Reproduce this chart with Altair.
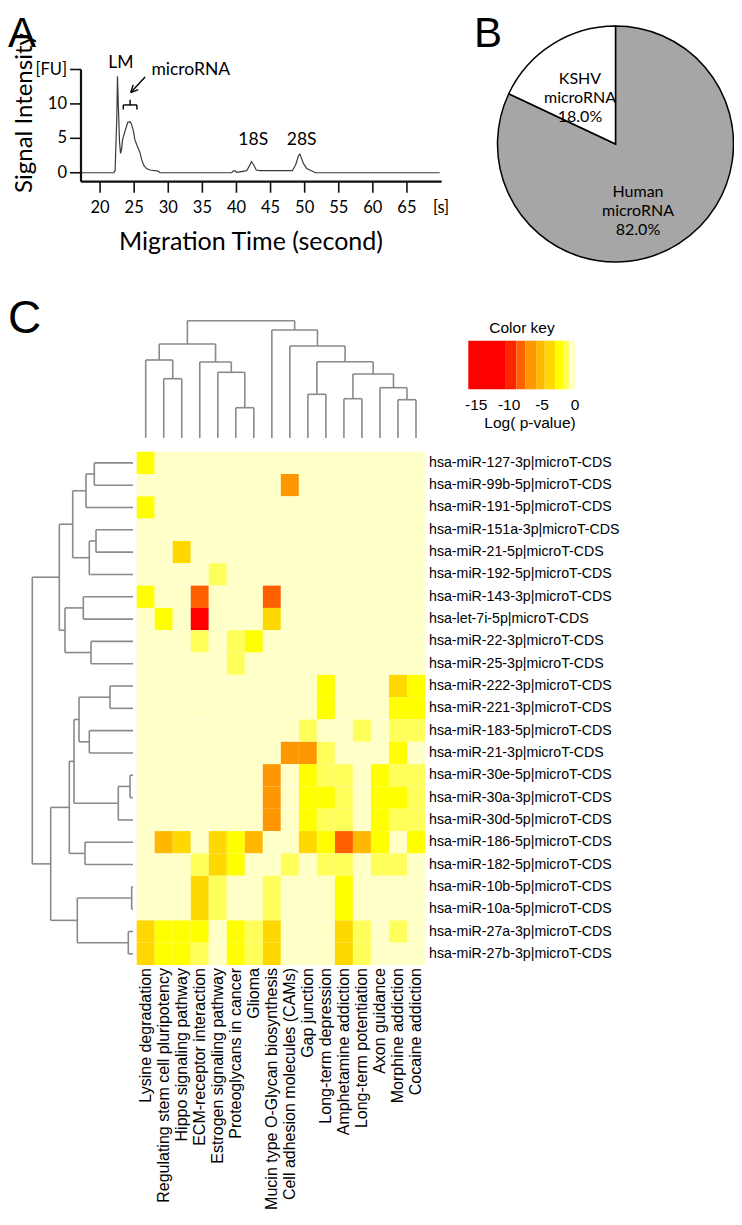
import math
import altair as alt
import pandas as pd

OX, OY = 8, 8
W, H = 726, 1207
FA = "Lato"
FC = "Liberation Sans"


def px(v):
    return v - OX


def py(v):
    return v - OY


def S(domain, rng):
    return alt.Scale(domain=list(domain), range=list(rng), nice=False, zero=False)


# ---------------- Panel A data ----------------
a_time = [17.2, 22.0, 22.2, 22.45, 22.55, 22.7, 22.85, 23.0, 23.15, 23.3,
          23.7, 24.05, 24.4, 24.6, 24.9, 25.1, 25.4, 25.8, 26.1, 26.4,
          26.8, 27.3, 28.5, 28.8, 39.3, 39.5, 39.8, 40.0, 40.3, 41.5,
          41.9, 42.2, 42.5, 42.9, 43.5, 48.2, 48.7, 49.1, 49.3, 49.5,
          49.8, 50.3, 51.3, 51.6, 69.8]
a_fu = [0, 0, 0.3, 8.0, 14.0, 9.0, 4.5, 2.8, 3.4, 4.8,
        6.2, 7.3, 7.4, 7.1, 6.0, 4.8, 4.0, 3.1, 1.9, 1.1,
        0.6, 0.4, 0.25, 0, 0, 0.25, 0.3, 0.05, 0.1, 0.3,
        1.0, 1.6, 1.2, 0.4, 0.3, 0.3, 1.2, 2.5, 2.7, 2.2,
        1.4, 0.6, 0.15, 0, 0]
a_xtick_vals = [20, 25, 30, 35, 40, 45, 50, 55, 60, 65, 70]
a_xtick_text = ["20", "25", "30", "35", "40", "45", "50", "55", "60", "65", "[s]"]
a_ytick_vals = [0, 5, 10, 15]
a_ytick_text = ["0", "5", "10", "[FU]"]
a_peak_text = ["LM", "microRNA", "18S", "28S"]
a_peak_t = [23.04, 33.3, 42.46, 49.56]
a_peak_fu = [16.0, 14.93, 4.75, 4.75]

# ---------------- Panel B data ----------------
pie_groups = ["Human microRNA", "KSHV microRNA"]
pie_values = [82.0, 18.0]
pie_colors = ["#A6A6A6", "#FFFFFF"]

# ---------------- Panel C data ----------------
pathways = ["Lysine degradation", "Regulating stem cell pluripotency",
            "Hippo signaling pathway", "ECM-receptor interaction",
            "Estrogen signaling pathway", "Proteoglycans in cancer", "Glioma",
            "Mucin type O-Glycan biosynthesis", "Cell adhesion molecules (CAMs)",
            "Gap junction", "Long-term depression", "Amphetamine addiction",
            "Long-term potentiation", "Axon guidance", "Morphine addiction",
            "Cocaine addiction"]
mirnas = ["hsa-miR-127-3p|microT-CDS", "hsa-miR-99b-5p|microT-CDS",
          "hsa-miR-191-5p|microT-CDS", "hsa-miR-151a-3p|microT-CDS",
          "hsa-miR-21-5p|microT-CDS", "hsa-miR-192-5p|microT-CDS",
          "hsa-miR-143-3p|microT-CDS", "hsa-let-7i-5p|microT-CDS",
          "hsa-miR-22-3p|microT-CDS", "hsa-miR-25-3p|microT-CDS",
          "hsa-miR-222-3p|microT-CDS", "hsa-miR-221-3p|microT-CDS",
          "hsa-miR-183-5p|microT-CDS", "hsa-miR-21-3p|microT-CDS",
          "hsa-miR-30e-5p|microT-CDS", "hsa-miR-30a-3p|microT-CDS",
          "hsa-miR-30d-5p|microT-CDS", "hsa-miR-186-5p|microT-CDS",
          "hsa-miR-182-5p|microT-CDS", "hsa-miR-10b-5p|microT-CDS",
          "hsa-miR-10a-5p|microT-CDS", "hsa-miR-27a-3p|microT-CDS",
          "hsa-miR-27b-3p|microT-CDS"]

logp = [
    [-2.4, -0.3, -0.3, -0.3, -0.3, -0.3, -0.3, -0.3, -0.3, -0.3, -0.3, -0.3, -0.3, -0.3, -0.3, -0.3],
    [-0.3, -0.3, -0.3, -0.3, -0.3, -0.3, -0.3, -0.3, -6.5, -0.3, -0.3, -0.3, -0.3, -0.3, -0.3, -0.3],
    [-2.4, -0.3, -0.3, -0.3, -0.3, -0.3, -0.3, -0.3, -0.3, -0.3, -0.3, -0.3, -0.3, -0.3, -0.3, -0.3],
    [-0.3, -0.3, -0.3, -0.3, -0.3, -0.3, -0.3, -0.3, -0.3, -0.3, -0.3, -0.3, -0.3, -0.3, -0.3, -0.3],
    [-0.3, -0.3, -3.8, -0.3, -0.3, -0.3, -0.3, -0.3, -0.3, -0.3, -0.3, -0.3, -0.3, -0.3, -0.3, -0.3],
    [-0.3, -0.3, -0.3, -0.3, -1.3, -0.3, -0.3, -0.3, -0.3, -0.3, -0.3, -0.3, -0.3, -0.3, -0.3, -0.3],
    [-2.4, -0.3, -0.3, -8.0, -0.3, -0.3, -0.3, -8.0, -0.3, -0.3, -0.3, -0.3, -0.3, -0.3, -0.3, -0.3],
    [-0.3, -2.4, -0.3, -12.5, -0.3, -0.3, -0.3, -3.8, -0.3, -0.3, -0.3, -0.3, -0.3, -0.3, -0.3, -0.3],
    [-0.3, -0.3, -0.3, -1.3, -0.3, -1.3, -2.4, -0.3, -0.3, -0.3, -0.3, -0.3, -0.3, -0.3, -0.3, -0.3],
    [-0.3, -0.3, -0.3, -0.3, -0.3, -1.3, -0.3, -0.3, -0.3, -0.3, -0.3, -0.3, -0.3, -0.3, -0.3, -0.3],
    [-0.3, -0.3, -0.3, -0.3, -0.3, -0.3, -0.3, -0.3, -0.3, -0.3, -2.4, -0.3, -0.3, -0.3, -3.8, -2.4],
    [-0.3, -0.3, -0.3, -0.3, -0.3, -0.3, -0.3, -0.3, -0.3, -0.3, -2.4, -0.3, -0.3, -0.3, -2.4, -2.4],
    [-0.3, -0.3, -0.3, -0.3, -0.3, -0.3, -0.3, -0.3, -0.3, -1.3, -0.3, -0.3, -1.3, -0.3, -1.3, -1.3],
    [-0.3, -0.3, -0.3, -0.3, -0.3, -0.3, -0.3, -0.3, -6.5, -6.2, -1.3, -0.3, -0.3, -0.3, -2.4, -0.3],
    [-0.3, -0.3, -0.3, -0.3, -0.3, -0.3, -0.3, -6.5, -0.3, -2.4, -1.3, -1.3, -0.3, -2.4, -1.3, -1.3],
    [-0.3, -0.3, -0.3, -0.3, -0.3, -0.3, -0.3, -6.5, -0.3, -2.4, -2.4, -1.3, -0.3, -2.4, -2.4, -1.3],
    [-0.3, -0.3, -0.3, -0.3, -0.3, -0.3, -0.3, -6.5, -0.3, -2.4, -1.3, -1.3, -0.3, -2.4, -1.3, -1.3],
    [-0.3, -5.2, -3.8, -0.3, -3.8, -2.4, -5.0, -0.3, -0.3, -3.8, -2.4, -8.0, -5.2, -2.4, -0.3, -2.4],
    [-0.3, -0.3, -0.3, -1.3, -3.8, -2.4, -0.3, -0.3, -1.3, -0.3, -1.3, -1.3, -0.3, -1.3, -1.3, -0.3],
    [-0.3, -0.3, -0.3, -3.8, -1.3, -0.3, -0.3, -1.3, -0.3, -0.3, -0.3, -2.4, -0.3, -0.3, -0.3, -0.3],
    [-0.3, -0.3, -0.3, -3.8, -1.3, -0.3, -0.3, -1.3, -0.3, -0.3, -0.3, -2.4, -0.3, -0.3, -0.3, -0.3],
    [-3.8, -2.4, -2.4, -2.4, -0.3, -2.4, -1.3, -3.8, -0.3, -0.3, -0.3, -3.8, -1.3, -0.3, -1.3, -0.3],
    [-3.8, -2.4, -2.4, -1.3, -0.3, -2.4, -1.3, -3.8, -0.3, -0.3, -0.3, -3.8, -1.3, -0.3, -0.3, -0.3],
]

# dendrogram merges: (child a, child b, height); new nodes numbered after the leaves
col_links = [(5, 6, 30.3), (14, 15, 38.3), (11, 12, 39.3), (9, 10, 43.7),
             (13, 17, 50.3), (1, 2, 59.3), (18, 20, 64.0), (4, 16, 65.7),
             (3, 23, 76.0), (19, 22, 76.3), (0, 21, 78.0), (8, 25, 92.0),
             (26, 24, 94.0), (7, 27, 108.0), (28, 29, 117.3)]
row_links = [(19, 20, 1.3), (14, 15, 3.0), (21, 22, 4.7), (24, 16, 14.7),
             (10, 11, 23.0), (3, 4, 37.0), (0, 1, 38.7), (8, 9, 42.0),
             (28, 5, 43.7), (12, 13, 43.7), (29, 2, 47.0), (17, 18, 48.0),
             (6, 7, 49.7), (27, 32, 54.0), (23, 25, 55.7), (36, 26, 59.0),
             (33, 31, 60.3), (38, 34, 63.7), (35, 30, 68.0), (39, 41, 73.7),
             (40, 37, 82.3), (42, 43, 100.7)]

key_breaks = [-10.5, -8.9, -7.5, -5.9, -4.6, -3.0, -1.8, -0.9]
key_colors = ["#FF0000", "#FF2400", "#FF6000", "#FF9800", "#FFB800",
              "#FFD800", "#FFFF00", "#FFFF5C", "#FFFFC8"]
key_min, key_max = -16.2, 0.0
key_ticks = [-15, -10, -5, 0]


# ---------------- helpers ----------------
def dendro(n, links):
    pos = {i: i + 0.5 for i in range(n)}
    hgt = {i: 0.0 for i in range(n)}
    segs = []
    for k, (a, b, h) in enumerate(links):
        segs.append(dict(p1=pos[a], p2=pos[a], h1=hgt[a], h2=h))
        segs.append(dict(p1=pos[b], p2=pos[b], h1=hgt[b], h2=h))
        segs.append(dict(p1=pos[a], p2=pos[b], h1=h, h2=h))
        pos[n + k] = (pos[a] + pos[b]) / 2
        hgt[n + k] = h
    return pd.DataFrame(segs)


def txt(text, x, y, size, font, **kw):
    return alt.Chart(pd.DataFrame({"t": [text]})).mark_text(
        fontSize=size, font=font, color="black", **kw
    ).encode(text="t:N", x=alt.value(x), y=alt.value(y))


layers = []

# ---------------- Panel A ----------------
sxA = S([17.2, 70.1], [px(81), px(441.7)])
syA = S([-1.3, 15], [py(181.7), py(69.5)])


def encA(x2=None, y2=None):
    e = dict(x=alt.X("x:Q", scale=sxA, axis=None),
             y=alt.Y("y:Q", scale=syA, axis=None))
    if x2:
        e["x2"] = f"{x2}:Q"
    if y2:
        e["y2"] = f"{y2}:Q"
    return e


curve = pd.DataFrame({"x": a_time, "y": a_fu})
layers.append(alt.Chart(curve).mark_line(color="#3a3a3a", strokeWidth=1.2).encode(**encA()))

axis_df = pd.DataFrame({"x": [17.2, 17.2], "x2": [70.1, 17.2], "y": [-1.3, -1.3], "y2": [-1.3, 15]})
layers.append(alt.Chart(axis_df).mark_rule(color="#111", strokeWidth=2.2).encode(**encA(x2="x2", y2="y2")))

tick_rows = [dict(x=v, x2=v, y=-1.3, y2=-2.9) for v in a_xtick_vals[:-1]]
tick_rows += [dict(x=15.59, x2=17.2, y=v, y2=v) for v in a_ytick_vals]
layers.append(alt.Chart(pd.DataFrame(tick_rows)).mark_rule(color="#111", strokeWidth=1.6).encode(
    **encA(x2="x2", y2="y2")))

xt = pd.DataFrame({"x": a_xtick_vals, "t": a_xtick_text})
layers.append(alt.Chart(xt).mark_text(fontSize=16.5, font=FA, color="black", baseline="middle").encode(
    x=alt.X("x:Q", scale=sxA, axis=None), y=alt.value(py(208)), text="t:N"))
yt = pd.DataFrame({"y": a_ytick_vals, "t": a_ytick_text})
layers.append(alt.Chart(yt).mark_text(fontSize=16.5, font=FA, color="black", align="right",
                                      baseline="middle").encode(
    y=alt.Y("y:Q", scale=syA, axis=None), x=alt.value(px(67)), text="t:N"))

pk = pd.DataFrame({"x": a_peak_t, "y": a_peak_fu, "t": a_peak_text})
layers.append(alt.Chart(pk).mark_text(fontSize=17.5, font=FA, color="black", baseline="middle").encode(
    **encA(), text="t:N"))

# bracket and arrow for microRNA
tip = (24.5, 11.65)
tail = (26.6, 13.9)
kx, ky = 6.82, 6.88  # px per unit
dxp, dyp = (tail[0] - tip[0]) * kx, (tail[1] - tip[1]) * ky
ang = math.atan2(dyp, dxp)
head = []
for s in (-0.45, 0.45):
    hx = tip[0] + 8 * math.cos(ang + s) / kx
    hy = tip[1] + 8 * math.sin(ang + s) / ky
    head.append(dict(x=tip[0], y=tip[1], x2=hx, y2=hy))
ann = [dict(x=23.4, y=9.85, x2=25.4, y2=9.85),
       dict(x=23.4, y=9.85, x2=23.4, y2=9.2),
       dict(x=25.4, y=9.85, x2=25.4, y2=9.2),
       dict(x=24.4, y=9.85, x2=24.4, y2=10.6),
       dict(x=tip[0], y=tip[1], x2=tail[0], y2=tail[1])] + head
layers.append(alt.Chart(pd.DataFrame(ann)).mark_rule(color="black", strokeWidth=1.4).encode(
    **encA(x2="x2", y2="y2")))

layers.append(txt("Migration Time (second)", px(251), py(242), 25, FA, baseline="middle"))
layers.append(txt("Signal Intensity", 5, py(113), 24, FA, angle=270, baseline="top"))
layers.append(txt("A", 0, py(46.5), 42, FC, align="left", baseline="alphabetic"))

# ---------------- Panel B ----------------
pie_df = pd.DataFrame({"g": pie_groups, "v": pie_values, "c": pie_colors, "o": [0, 1]})
layers.append(alt.Chart(pie_df).mark_arc(outerRadius=118, stroke="black", strokeWidth=1.5).encode(
    theta=alt.Theta("v:Q", stack=True),
    color=alt.Color("c:N", scale=None, legend=None),
    order=alt.Order("o:Q"),
    x=alt.value(px(615.5)), y=alt.value(py(144))))
layers.append(txt("KSHV\nmicroRNA\n%.1f%%" % pie_values[1], px(580), py(79), 16, FA,
                  lineBreak="\n", lineHeight=19, baseline="middle"))
layers.append(txt("Human\nmicroRNA\n%.1f%%" % pie_values[0], px(638), py(192), 16, FA,
                  lineBreak="\n", lineHeight=19, baseline="middle"))
layers.append(txt("B", px(474), py(46.5), 42, FC, align="left", baseline="alphabetic"))

# ---------------- Panel C ----------------
sxC = S([0, 16], [px(136.7), px(425)])
syC = S([0, 23], [py(451.7), py(965)])
syCD = S([0, 117.3], [py(438), py(320.7)])
sxRD = S([0, 100.7], [px(133), px(32.3)])
sxK = S([key_min, key_max], [px(468.3), px(575)])

cd = dendro(16, col_links)
layers.append(alt.Chart(cd).mark_rule(color="#8a8a8a", strokeWidth=1.6).encode(
    x=alt.X("p1:Q", scale=sxC, axis=None), x2="p2:Q",
    y=alt.Y("h1:Q", scale=syCD, axis=None), y2="h2:Q"))

rd = dendro(23, row_links)
layers.append(alt.Chart(rd).mark_rule(color="#8a8a8a", strokeWidth=1.6).encode(
    y=alt.Y("p1:Q", scale=syC, axis=None), y2="p2:Q",
    x=alt.X("h1:Q", scale=sxRD, axis=None), x2="h2:Q"))

cells = pd.DataFrame([dict(r0=i, r1=i + 1, c0=j, c1=j + 1, v=logp[i][j])
                      for i in range(len(mirnas)) for j in range(len(pathways))])
layers.append(alt.Chart(cells).mark_rect(strokeWidth=0).encode(
    x=alt.X("c0:Q", scale=sxC, axis=None), x2="c1:Q",
    y=alt.Y("r0:Q", scale=syC, axis=None), y2="r1:Q",
    color=alt.Color("v:Q", scale=alt.Scale(type="threshold", domain=key_breaks, range=key_colors),
                    legend=None)))

rl = pd.DataFrame({"y": [i + 0.5 for i in range(len(mirnas))], "t": mirnas})
layers.append(alt.Chart(rl).mark_text(fontSize=14.2, font=FC, color="black", align="left",
                                      baseline="middle").encode(
    y=alt.Y("y:Q", scale=syC, axis=None), x=alt.value(px(429)), text="t:N"))

cl = pd.DataFrame({"x": [j + 0.5 for j in range(len(pathways))], "t": pathways})
layers.append(alt.Chart(cl).mark_text(fontSize=16, font=FC, color="black", align="right",
                                      baseline="middle", angle=270).encode(
    x=alt.X("x:Q", scale=sxC, axis=None), y=alt.value(py(968)), text="t:N"))

edges = [key_min] + key_breaks + [key_max]
kd = pd.DataFrame({"lo": edges[:-1], "hi": edges[1:], "c": key_colors})
layers.append(alt.Chart(kd).mark_rect(strokeWidth=0).encode(
    x=alt.X("lo:Q", scale=sxK, axis=None), x2="hi:Q",
    y=alt.value(py(340.7)), y2=alt.value(py(389.3)),
    color=alt.Color("c:N", scale=None, legend=None)))
kt = pd.DataFrame({"x": key_ticks, "t": [str(v) for v in key_ticks]})
layers.append(alt.Chart(kt).mark_text(fontSize=15.5, font=FC, color="black", baseline="middle").encode(
    x=alt.X("x:Q", scale=sxK, axis=None), y=alt.value(py(405)), text="t:N"))
layers.append(txt("Color key", px(522), py(328), 15.5, FC, baseline="middle"))
layers.append(txt("Log( p-value)", px(530), py(423), 15.5, FC, baseline="middle"))
layers.append(txt("C", 0, py(333), 46, FC, align="left", baseline="alphabetic"))

chart = alt.layer(*layers).properties(
    width=W, height=H, autosize=alt.AutoSizeParams(type="none"), padding=0
).resolve_scale(
    x="independent", y="independent", color="independent", theta="independent"
).configure_view(strokeWidth=0)

chart.save("out.html", embed_options={"renderer": "svg", "actions": False})
